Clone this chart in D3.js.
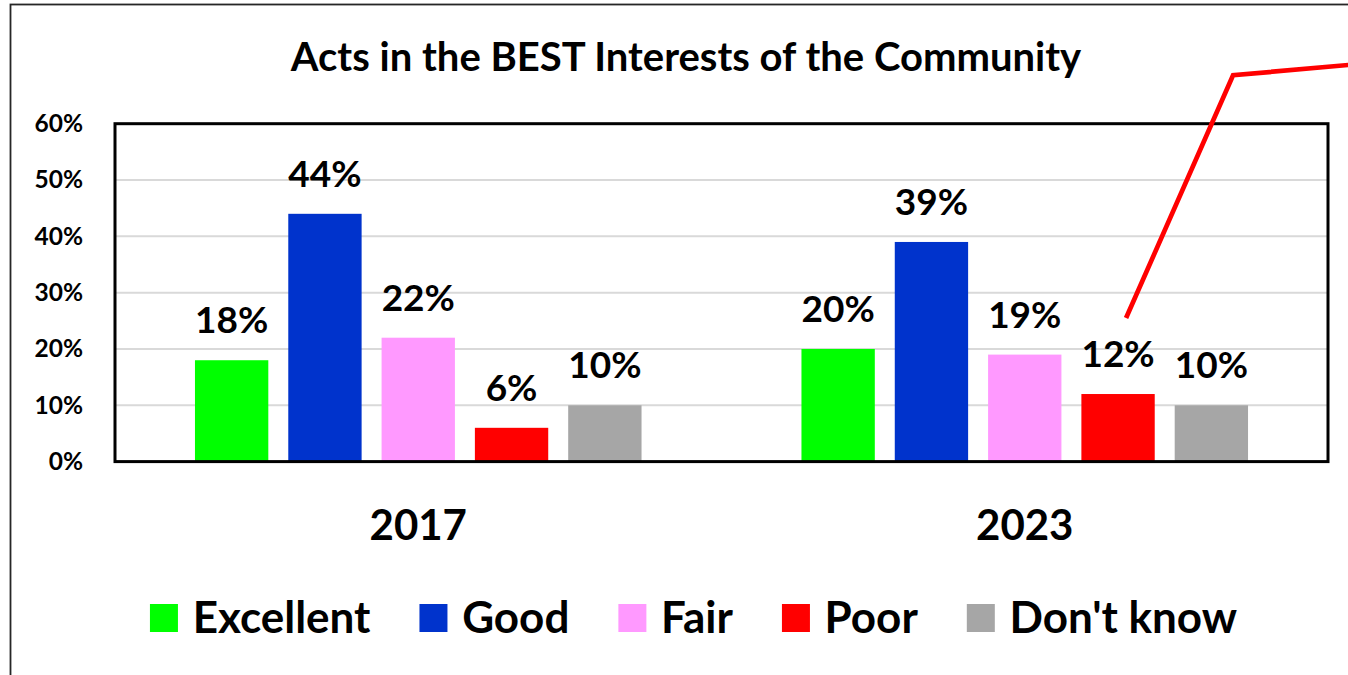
<!DOCTYPE html>
<html>
<head>
<meta charset="utf-8">
<script src="https://cdn.jsdelivr.net/npm/d3@7"></script>
<style>
  html, body { margin: 0; padding: 0; background: #fff; }
  svg { display: block; }
  text { font-family: Lato, "Open Sans", sans-serif; font-weight: bold; fill: #000; }
</style>
</head>
<body>
<svg id="chart" width="1348" height="675"></svg>
<script>
// Survey results: "Acts in the best interests of the community"
const years = ["2017", "2023"];
const categories = ["Excellent", "Good", "Fair", "Poor", "Don't know"];
const values2017 = [0.18, 0.44, 0.22, 0.06, 0.10];
const values2023 = [0.20, 0.39, 0.19, 0.12, 0.10];
const colors = ["#00FF00", "#0033CC", "#FF99FF", "#FF0000", "#A6A6A6"];
const yTicks = [0, 0.1, 0.2, 0.3, 0.4, 0.5, 0.6];
const title = "Acts in the BEST Interests of the Community";

const seriesByYear = { "2017": values2017, "2023": values2023 };
const rows = years.flatMap(yr => categories.map((c, i) => ({ year: yr, cat: c, value: seriesByYear[yr][i], color: colors[i] })));

const svg = d3.select("#chart");
const plot = { left: 115, right: 1328, top: 123.7, bottom: 461.6 };

// outer chart frame (runs past the right and bottom edges)
svg.append("rect")
  .attr("x", 10.5).attr("y", 4.5)
  .attr("width", 1400).attr("height", 800)
  .attr("fill", "#fff").attr("stroke", "#262626").attr("stroke-width", 1.8);

const x0 = d3.scaleBand().domain(years).range([plot.left, plot.right]).padding(0);
const x1 = d3.scaleBand().domain(categories).range([0, x0.bandwidth()])
  .paddingInner(0.214).paddingOuter(0.857);
const y = d3.scaleLinear().domain([0, 0.6]).range([plot.bottom, plot.top]);
const pct = d3.format(".0%");

// title
svg.append("text")
  .attr("x", 686).attr("y", 71)
  .attr("text-anchor", "middle")
  .style("font-size", "40px")
  .text(title);

// gridlines
svg.append("g")
  .selectAll("line")
  .data(yTicks.filter(t => t > 0 && t < 0.6))
  .join("line")
  .attr("x1", plot.left).attr("x2", plot.right)
  .attr("y1", d => y(d)).attr("y2", d => y(d))
  .attr("stroke", "#D9D9D9").attr("stroke-width", 2);

// y axis labels
const yAxis = d3.axisLeft(y).tickValues(yTicks).tickFormat(pct).tickSize(0).tickPadding(0);
const gy = svg.append("g").attr("transform", `translate(83,0)`).call(yAxis);
gy.select(".domain").remove();
gy.selectAll("text")
  .style("font-size", "24.5px")
  .style("font-family", "Lato, sans-serif")
  .style("font-weight", "bold")
  .attr("fill", "#000");

// bars
const groups = svg.append("g").selectAll("g")
  .data(years).join("g")
  .attr("transform", d => `translate(${x0(d)},0)`);

groups.selectAll("rect")
  .data(yr => rows.filter(r => r.year === yr))
  .join("rect")
  .attr("x", d => x1(d.cat))
  .attr("width", x1.bandwidth())
  .attr("y", d => y(d.value))
  .attr("height", d => y(0) - y(d.value))
  .attr("fill", d => d.color);

// value labels
groups.selectAll("text.val")
  .data(yr => rows.filter(r => r.year === yr))
  .join("text")
  .attr("class", "val")
  .attr("x", d => x1(d.cat) + x1.bandwidth() / 2)
  .attr("y", d => y(d.value) - 27)
  .attr("text-anchor", "middle")
  .style("font-size", "37px")
  .text(d => pct(d.value));

// plot frame
svg.append("rect")
  .attr("x", plot.left).attr("y", plot.top)
  .attr("width", plot.right - plot.left).attr("height", plot.bottom - plot.top)
  .attr("fill", "none").attr("stroke", "#000").attr("stroke-width", 3);

// x axis (year) labels
const xAxis = d3.axisBottom(x0).tickSize(0).tickPadding(0);
const gx = svg.append("g").attr("transform", `translate(0,${plot.bottom})`).call(xAxis);
gx.select(".domain").remove();
gx.selectAll("text")
  .attr("dy", null)
  .attr("y", 78)
  .style("font-size", "42px")
  .style("font-family", "Lato, sans-serif")
  .style("font-weight", "bold")
  .attr("fill", "#000");

// legend
const legend = svg.append("g");
const sw = 28, textGap = 14.7, itemGap = 49, legendY = 604;
const items = legend.selectAll("g").data(categories).join("g");
items.append("rect")
  .attr("width", sw).attr("height", sw)
  .attr("y", legendY)
  .attr("fill", (d, i) => colors[i]);
items.append("text")
  .attr("x", sw + textGap)
  .attr("y", legendY + 28.7)
  .style("font-size", "44px")
  .text(d => d);
let cursor = 0;
const offsets = [];
items.each(function () {
  const tw = d3.select(this).select("text").node().getComputedTextLength();
  offsets.push(cursor);
  cursor += sw + textGap + tw + itemGap;
});
const legendWidth = cursor - itemGap;
const legendStart = 693.5 - legendWidth / 2;
items.attr("transform", (d, i) => `translate(${legendStart + offsets[i]},0)`);

// red pointer from the 2023 "Poor" label out past the right edge
const poorX = x0("2023") + x1("Poor") + x1.bandwidth() / 2;
const pointer = [
  [poorX + 8, y(0.12) - 76],
  [poorX + 115, y(0.686)],
  [poorX + 260, y(0.709)]
];
svg.append("path")
  .attr("d", d3.line()(pointer))
  .attr("fill", "none")
  .attr("stroke", "#FF0000")
  .attr("stroke-width", 4.7)
  .attr("stroke-linejoin", "miter");
</script>
</body>
</html>
